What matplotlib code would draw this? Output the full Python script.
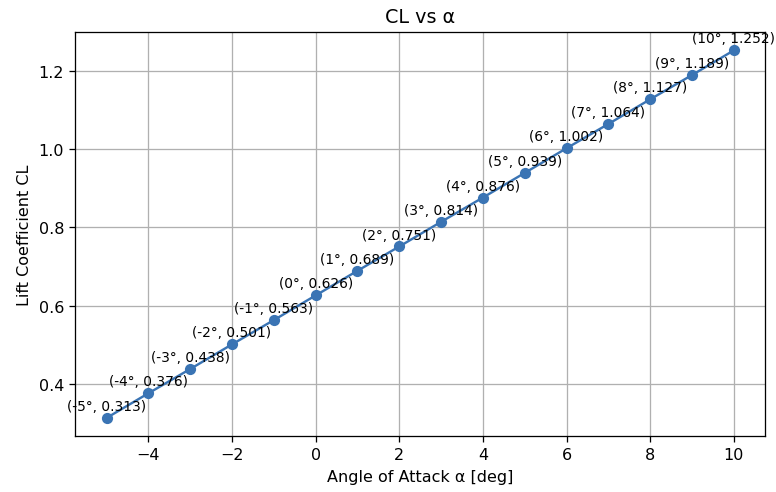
import matplotlib.pyplot as plt

# angle of attack [deg] and lift coefficient
alpha = [-5, -4, -3, -2, -1, 0, 1, 2, 3, 4, 5, 6, 7, 8, 9, 10]
cl = [0.313, 0.376, 0.438, 0.501, 0.563, 0.626, 0.689, 0.751,
      0.814, 0.876, 0.939, 1.002, 1.064, 1.127, 1.189, 1.252]

fig, ax = plt.subplots(figsize=(776 / 115, 493 / 115), dpi=115)
ax.plot(alpha, cl, marker='o', color='#3a74b4')

# label every point with its (alpha, CL) pair
for a, c in zip(alpha, cl):
    ax.annotate(f"({a}°, {c:.3f})", (a, c), textcoords="offset points",
                xytext=(0, 5), ha='center', fontsize=8.6)

ax.set_title("CL vs α")
ax.set_xlabel("Angle of Attack α [deg]")
ax.set_ylabel("Lift Coefficient CL")
ax.grid(True)

fig.subplots_adjust(left=0.097, right=0.986, top=0.933, bottom=0.113)
fig.savefig("out.png")
